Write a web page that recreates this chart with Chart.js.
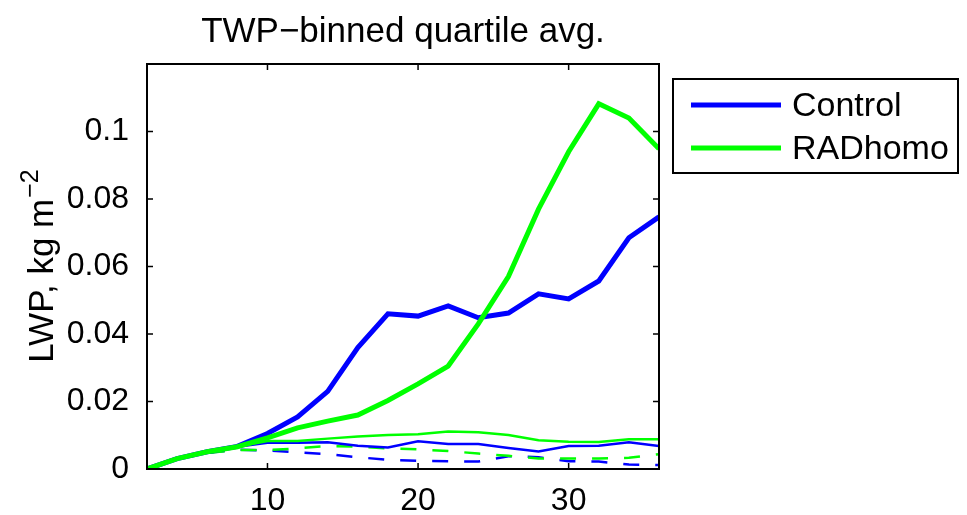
<!DOCTYPE html>
<html>
<head>
<meta charset="utf-8">
<script src="https://cdn.jsdelivr.net/npm/chart.js@4.4.1/dist/chart.umd.min.js"></script>
<style>
  html, body { margin: 0; padding: 0; background: #fff; }
</style>
</head>
<body>
<canvas id="c" width="967" height="515"></canvas>
<script>
const FONT = '"Liberation Sans", Arial, Helvetica, sans-serif';
const TICK_FS = 32;
const TITLE_FS = 35;
const LEGEND_FS = 34;
const BLUE = '#0000ff';
const GREEN = '#00ff00';
const TICK = 6;

// TWP bins (x) and quartile-averaged LWP (kg m^-2)
const twpBins = [2, 4, 6, 8, 10, 12, 14, 16, 18, 20, 22, 24, 26, 28, 30, 32, 34, 36];

const controlTop = [0, 0.0031, 0.0051, 0.0067, 0.0105, 0.0154, 0.0230, 0.0360, 0.0460, 0.0453, 0.0483, 0.0448, 0.0462, 0.0519, 0.0504, 0.0557, 0.0685, 0.0747];
const radhomoTop = [0, 0.0031, 0.0051, 0.0066, 0.0092, 0.0122, 0.0142, 0.0160, 0.0203, 0.0252, 0.0305, 0.0430, 0.0570, 0.0770, 0.0940, 0.1082, 0.1040, 0.0949];

const controlMid = [0, 0.0030, 0.0050, 0.0066, 0.0078, 0.0078, 0.0079, 0.0069, 0.0064, 0.0082, 0.0074, 0.0074, 0.0062, 0.0052, 0.0068, 0.0069, 0.0079, 0.0068];
const radhomoMid = [0, 0.0030, 0.0050, 0.0066, 0.0083, 0.0083, 0.0090, 0.0096, 0.0101, 0.0103, 0.0111, 0.0109, 0.0101, 0.0085, 0.0081, 0.0080, 0.0088, 0.0088];

const controlLow = [0, 0.0030, 0.0048, 0.0057, 0.0055, 0.0049, 0.0044, 0.0035, 0.0027, 0.0024, 0.0023, 0.0022, 0.0038, 0.0035, 0.0023, 0.0022, 0.0013, 0.0012];
const radhomoLow = [0, 0.0030, 0.0048, 0.0056, 0.0056, 0.0061, 0.0068, 0.0066, 0.0061, 0.0058, 0.0053, 0.0046, 0.0039, 0.0031, 0.0031, 0.0031, 0.0033, 0.0044];

const xTicks = [10, 20, 30];
const yTicks = [0, 0.02, 0.04, 0.06, 0.08, 0.1, 0.12];

const pts = arr => arr.map((v, i) => ({ x: twpBins[i], y: v }));

// order: higher is drawn first (underneath)
function series(data, color, width, dash, order, label) {
  return {
    label: label,
    data: pts(data),
    borderColor: color,
    backgroundColor: color,
    borderWidth: width,
    borderDash: dash || [],
    pointRadius: 0,
    tension: 0,
    fill: false,
    order: order
  };
}

// box, inward ticks, title, y label and the legend
const decor = {
  id: 'decor',
  afterDatasetsDraw(chart) {
    const { ctx, chartArea: a, scales: { x, y } } = chart;
    ctx.save();
    ctx.strokeStyle = '#000';
    ctx.lineWidth = 1.5;
    ctx.beginPath();
    x.ticks.forEach(t => {
      const px = x.getPixelForValue(t.value);
      ctx.moveTo(px, a.bottom); ctx.lineTo(px, a.bottom - TICK);
      ctx.moveTo(px, a.top); ctx.lineTo(px, a.top + TICK);
    });
    y.ticks.forEach(t => {
      const py = y.getPixelForValue(t.value);
      ctx.moveTo(a.left, py); ctx.lineTo(a.left + TICK, py);
      ctx.moveTo(a.right, py); ctx.lineTo(a.right - TICK, py);
    });
    ctx.stroke();
    ctx.lineWidth = 2;
    ctx.strokeRect(a.left, a.top, a.right - a.left, a.bottom - a.top);
    ctx.restore();
  },
  afterDraw(chart) {
    const { ctx, chartArea: a } = chart;
    ctx.save();
    ctx.fillStyle = '#000';

    // title
    ctx.font = `${TITLE_FS}px ${FONT}`;
    ctx.textAlign = 'center';
    ctx.textBaseline = 'alphabetic';
    ctx.fillText('TWP\u2212binned quartile avg.', (a.left + a.right) / 2, 42);

    // y axis label with superscript
    const main = 'LWP, kg m';
    const sup = '\u22122';
    const supFs = 25;
    ctx.font = `${TITLE_FS}px ${FONT}`;
    const w1 = ctx.measureText(main).width;
    ctx.font = `${supFs}px ${FONT}`;
    const w2 = ctx.measureText(sup).width;
    ctx.translate(53, (a.top + a.bottom) / 2);
    ctx.rotate(-Math.PI / 2);
    ctx.textAlign = 'left';
    const x0 = -(w1 + w2) / 2;
    ctx.font = `${TITLE_FS}px ${FONT}`;
    ctx.fillText(main, x0, 0);
    ctx.font = `${supFs}px ${FONT}`;
    ctx.fillText(sup, x0 + w1 + 1, -15);
    ctx.restore();

    // legend, listed in dataset index order
    const items = chart.data.datasets.filter(d => d.label);
    const bx = 673, by = 79, bw = 285, bh = 94;
    ctx.save();
    ctx.fillStyle = '#fff';
    ctx.fillRect(bx, by, bw, bh);
    ctx.strokeStyle = '#000';
    ctx.lineWidth = 2;
    ctx.strokeRect(bx, by, bw, bh);
    ctx.font = `${LEGEND_FS}px ${FONT}`;
    ctx.textAlign = 'left';
    ctx.textBaseline = 'middle';
    items.forEach((d, i) => {
      const ly = by + 26 + i * 43;
      ctx.strokeStyle = d.borderColor;
      ctx.lineWidth = d.borderWidth;
      ctx.beginPath();
      ctx.moveTo(bx + 18, ly);
      ctx.lineTo(bx + 108, ly);
      ctx.stroke();
      ctx.fillStyle = '#000';
      ctx.fillText(d.label, bx + 119, ly + 2);
    });
    ctx.restore();
  }
};

new Chart(document.getElementById('c'), {
  type: 'line',
  data: {
    datasets: [
      series(controlTop, BLUE, 5, null, 1, 'Control'),
      series(radhomoTop, GREEN, 5, null, 0, 'RADhomo'),
      series(controlMid, BLUE, 2.5, null, 3),
      series(radhomoMid, GREEN, 2.5, null, 2),
      series(controlLow, BLUE, 2.5, [16, 16], 5),
      series(radhomoLow, GREEN, 2.5, [16, 16], 4)
    ]
  },
  options: {
    responsive: false,
    animation: false,
    layout: { padding: { top: 64, right: 308, left: 0, bottom: 0 } },
    plugins: { legend: { display: false }, title: { display: false }, tooltip: { enabled: false } },
    scales: {
      x: {
        type: 'linear',
        min: 2, max: 36,
        afterBuildTicks: s => { s.ticks = xTicks.map(v => ({ value: v })); },
        afterFit: s => { s.height = 46; },
        grid: { display: false },
        border: { display: false },
        ticks: { color: '#000', padding: 5, font: { family: FONT, size: TICK_FS }, maxRotation: 0 }
      },
      y: {
        min: 0, max: 0.12,
        afterBuildTicks: s => { s.ticks = yTicks.map(v => ({ value: v })); },
        afterFit: s => { s.width = 147; },
        grid: { display: false },
        border: { display: false },
        ticks: {
          color: '#000', padding: 10, font: { family: FONT, size: TICK_FS },
          callback: v => (v >= 0.119 ? '' : String(+v.toFixed(2)))
        }
      }
    }
  },
  plugins: [decor]
});
</script>
</body>
</html>
